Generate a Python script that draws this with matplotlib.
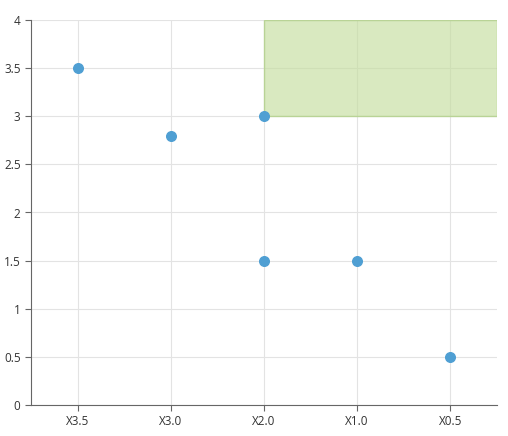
import matplotlib
matplotlib.use("Agg")
import matplotlib.pyplot as plt
from matplotlib.patches import Rectangle

categories = ["X3.5", "X3.0", "X2.0", "X1.0", "X0.5"]
point_cats = ["X3.5", "X3.0", "X2.0", "X2.0", "X1.0", "X0.5"]
point_vals = [3.5, 2.8, 3.0, 1.5, 1.5, 0.5]
zone_start = "X2.0"
zone_y = (3, 4)

plt.rcParams["font.family"] = ["Open Sans", "DejaVu Sans"]
fig = plt.figure(figsize=(5.08, 4.36), dpi=100)
ax = fig.add_axes([31 / 508, 31 / 436, 466 / 508, 385 / 436])

pos = {c: i for i, c in enumerate(categories)}
x0 = pos[zone_start]
ax.add_patch(Rectangle((x0, zone_y[0]), len(categories) - 0.5 - x0, zone_y[1] - zone_y[0],
                       facecolor="#c5de9f", alpha=0.65, edgecolor="#a8cc7a", lw=1, zorder=1))
ax.scatter([pos[c] for c in point_cats], point_vals, s=48, color="#4f9fd3", zorder=3)

ax.set_xlim(-0.5, len(categories) - 0.5)
ax.set_ylim(0, 4)
ax.set_xticks(range(len(categories)))
ax.set_xticklabels(categories)
ax.set_yticks([0, 0.5, 1, 1.5, 2, 2.5, 3, 3.5, 4])
ax.set_yticklabels(["0", "0.5", "1", "1.5", "2", "2.5", "3", "3.5", "4"])
ax.grid(True, color="#e3e3e3", lw=0.8, zorder=0)
ax.set_axisbelow(True)
for s in ["top", "right"]:
    ax.spines[s].set_visible(False)
for s in ["left", "bottom"]:
    ax.spines[s].set_color("#666666")
ax.tick_params(labelsize=8.5, colors="#333333", length=4, color="#666666")

fig.savefig("out.png", dpi=100)
